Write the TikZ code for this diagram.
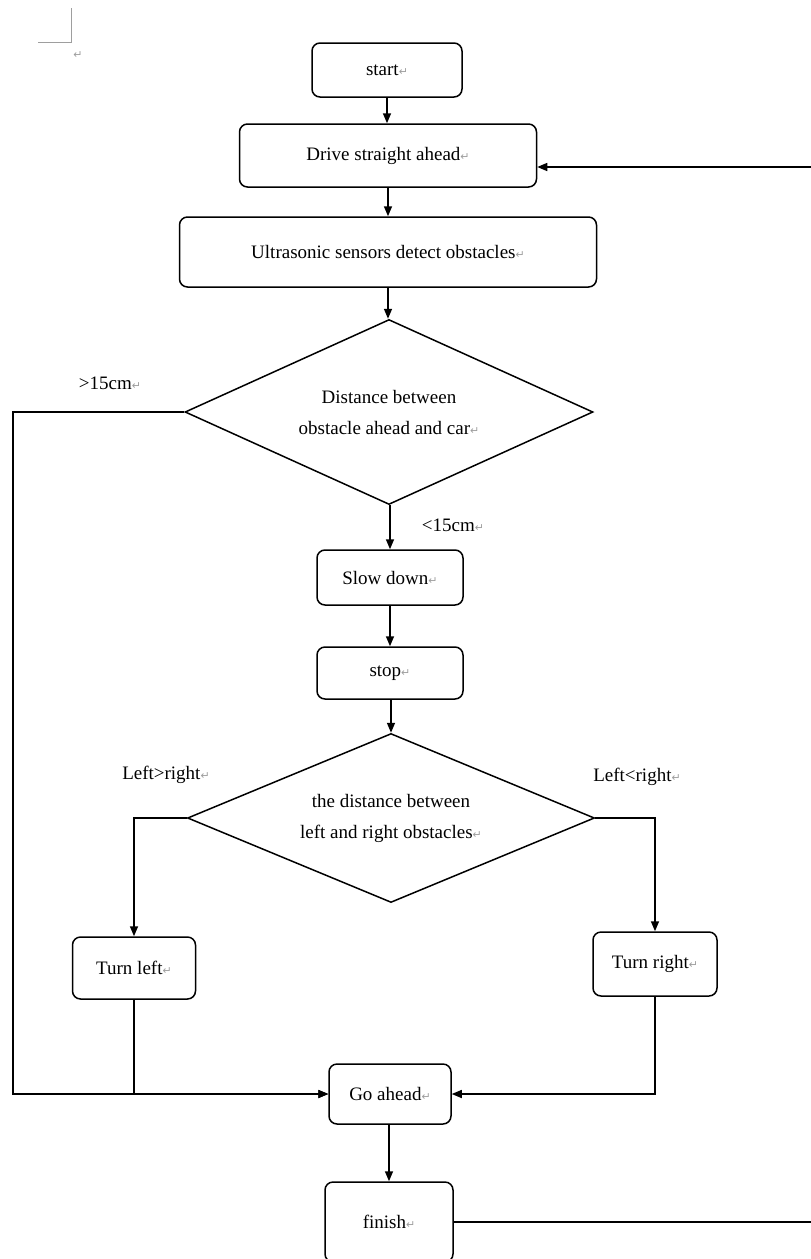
\documentclass[tikz,border=0pt]{standalone}
\usepackage{fontspec}
\setmainfont{Liberation Serif}
\newfontfamily\markfont{DejaVu Sans}
\usetikzlibrary{arrows.meta,shapes.geometric}

\definecolor{parmark}{gray}{0.62}
% Word-style paragraph mark after each line of text
\newcommand{\pmark}{{\markfont\fontsize{11}{11}\selectfont\color{parmark}↵}}

\tikzset{
  every node/.style={font=\fontsize{19}{31}\selectfont},
  stepbox/.style={draw, rounded corners=8pt, line width=1.5pt, inner sep=0pt, align=center},
  decision/.style={draw, diamond, line width=1.5pt, inner sep=0pt, align=center},
  flow/.style={line width=1.5pt, -{Triangle[length=10pt,width=8pt]}},
  plain/.style={line width=1.5pt},
  lbl/.style={inner sep=0pt}
}

\begin{document}
\begin{tikzpicture}[x=1pt,y=-1pt]
\useasboundingbox (0,0) rectangle (811,1259);

% page corner marker
\draw[parmark, line width=1pt] (38,42) -- (71,42) -- (71,8);
\node[lbl] (topmark) at (78,55) {\pmark};

% process steps
\node[stepbox, minimum width=150, minimum height=54] (start) at (387,70) {start\pmark};
\node[stepbox, minimum width=297, minimum height=63] (drive) at (388,155.5) {Drive straight ahead\pmark};
\node[stepbox, minimum width=417, minimum height=70] (ultra) at (388,252) {Ultrasonic sensors detect obstacles\pmark};
\node[decision, shape aspect=2.2, minimum width=408, minimum height=185] (dist) at (389,412) {Distance between\\obstacle ahead and car\pmark};
\node[stepbox, minimum width=146, minimum height=55] (slow) at (390,577.5) {Slow down\pmark};
\node[stepbox, minimum width=146, minimum height=52] (stop) at (390,673) {stop\pmark};
\node[decision, shape aspect=2.4, minimum width=407, minimum height=169] (side) at (391,818) {the distance between\\left and right obstacles\pmark};
\node[stepbox, minimum width=123, minimum height=62] (tleft) at (134,968) {Turn left\pmark};
\node[stepbox, minimum width=124, minimum height=64] (tright) at (655,964) {Turn right\pmark};
\node[stepbox, minimum width=122, minimum height=60] (goahead) at (390,1094) {Go ahead\pmark};
\node[stepbox, minimum width=128, minimum height=80] (finish) at (389,1222) {finish\pmark};

% branch labels
\node[lbl] (far) at (110,383) {>15cm\pmark};
\node[lbl] (near) at (453,525) {<15cm\pmark};
\node[lbl] (lgt) at (166,775) {Left>right\pmark};
\node[lbl] (rgt) at (637,777) {Left<right\pmark};

% free ends of the loop back to the top
\coordinate (backin) at (811,167);
\coordinate (backout) at (811,1222);
\coordinate (farleft) at (13,412);

% connectors
\draw[flow] (start.south) -- (start.south |- drive.north);
\draw[flow] (drive.south -| ultra.north) -- (ultra.north);
\draw[flow] (ultra.south) -- (ultra.south |- dist.north);
\draw[flow] (dist.south -| slow.north) -- (slow.north);
\draw[flow] (slow.south) -- (stop.north);
\draw[flow] (stop.south -| side.north) -- (side.north);
\draw[flow] (side.west) -| (tleft.north);
\draw[flow] (side.east) -| (tright.north);
\draw[flow] (tleft.south) |- (goahead.west);
\draw[flow] (tright.south) |- (goahead.east);
\draw[flow] (dist.west) -- (farleft) |- (goahead.west);
\draw[flow] (goahead.south -| finish.north) -- (finish.north);
\draw[plain] (finish.east) -- (backout);
\draw[flow] (backin) -- (backin -| drive.east);
\end{tikzpicture}
\end{document}
